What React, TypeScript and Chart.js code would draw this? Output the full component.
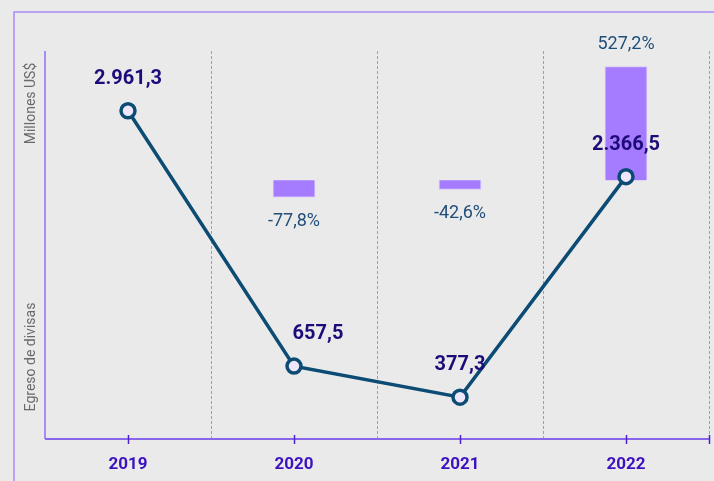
import React, { useEffect, useRef } from "react";
import { Chart, registerables } from "chart.js";

Chart.register(...registerables);

const categories = ["2019", "2020", "2021", "2022"];
const egresoValues = [2961.3, 657.5, 377.3, 2366.5];
const variationValues: (number | null)[] = [null, -77.8, -42.6, 527.2];
const leftAxisTitleTop = "Millones US$";
const leftAxisTitleBottom = "Egreso de divisas";

const FONT = "Roboto, 'Noto Sans', sans-serif";
// horizontal nudge of each line label (px), to avoid the line
const lineLabelShift = [0, 24, 0, 0];

function fmt(v: number, dec = 1): string {
  const neg = v < 0;
  const s = Math.abs(v).toFixed(dec);
  const [int, frac] = s.split(".");
  const withDots = int.replace(/\B(?=(\d{3})+(?!\d))/g, ".");
  return (neg ? "-" : "") + withDots + (frac ? "," + frac : "");
}

const decorPlugin = {
  id: "decor",
  beforeDatasetsDraw(chart: any) {
    const { ctx, chartArea } = chart;
    const xs = chart.scales.x;
    const { left, right, top, bottom } = chartArea;
    ctx.save();
    // frame
    ctx.strokeStyle = "#A98BF5";
    ctx.lineWidth = 1.5;
    ctx.beginPath();
    ctx.moveTo(14, chart.height);
    ctx.lineTo(14, 12);
    ctx.lineTo(chart.width, 12);
    ctx.stroke();
    // dashed boundaries
    const half = (xs.getPixelForValue(1) - xs.getPixelForValue(0)) / 2;
    ctx.strokeStyle = "#A98BF5";
    ctx.lineWidth = 1;
    ctx.setLineDash([3, 2]);
    for (let i = 0; i < categories.length; i++) {
      const x = Math.round(xs.getPixelForValue(i) + half) + 0.5;
      ctx.beginPath();
      ctx.moveTo(x, top);
      ctx.lineTo(x, bottom);
      ctx.stroke();
    }
    ctx.setLineDash([]);
    // left axis
    ctx.strokeStyle = "#A98BF5";
    ctx.lineWidth = 2;
    ctx.beginPath();
    ctx.moveTo(left, top);
    ctx.lineTo(left, bottom);
    ctx.stroke();
    // bottom axis
    ctx.strokeStyle = "#8766EC";
    ctx.lineWidth = 2;
    ctx.beginPath();
    ctx.moveTo(left, bottom);
    ctx.lineTo(right + 1, bottom);
    ctx.stroke();
    // tick marks
    ctx.strokeStyle = "#4F22CC";
    ctx.lineWidth = 1.5;
    const tickXs = categories.map((_, i) => xs.getPixelForValue(i));
    tickXs.push(xs.getPixelForValue(categories.length - 1) + half);
    tickXs.forEach((x) => {
      ctx.beginPath();
      ctx.moveTo(Math.round(x) + 0.5, bottom - 4);
      ctx.lineTo(Math.round(x) + 0.5, bottom + 5);
      ctx.stroke();
    });
    // x labels
    ctx.fillStyle = "#3D10C0";
    ctx.font = `bold 17px ${FONT}`;
    ctx.textAlign = "center";
    ctx.textBaseline = "middle";
    categories.forEach((c, i) => {
      ctx.fillText(c, xs.getPixelForValue(i), 465);
    });
    // left axis titles
    ctx.fillStyle = "#6A6A6A";
    ctx.font = `14px ${FONT}`;
    ctx.save();
    ctx.translate(31, 103.5);
    ctx.rotate(-Math.PI / 2);
    ctx.fillText(leftAxisTitleTop, 0, 0);
    ctx.restore();
    ctx.save();
    ctx.translate(31, 357);
    ctx.rotate(-Math.PI / 2);
    ctx.fillText(leftAxisTitleBottom, 0, 0);
    ctx.restore();
    ctx.restore();
  },
  afterDatasetsDraw(chart: any) {
    const { ctx } = chart;
    ctx.save();
    ctx.textAlign = "center";
    ctx.textBaseline = "middle";
    // bar labels
    const barMeta = chart.getDatasetMeta(1);
    ctx.font = `18px ${FONT}`;
    ctx.fillStyle = "#1F4E79";
    barMeta.data.forEach((el: any, i: number) => {
      const v = variationValues[i];
      if (v == null) return;
      const props = el.getProps(["x", "y", "base"], true);
      const topY = Math.min(props.y, props.base);
      const botY = Math.max(props.y, props.base);
      const y = v >= 0 ? topY - 22 : botY + 24;
      ctx.fillText(fmt(v) + "%", props.x, y);
    });
    // line labels
    const lineMeta = chart.getDatasetMeta(0);
    ctx.font = `bold 20px ${FONT}`;
    ctx.fillStyle = "#1E0B7A";
    lineMeta.data.forEach((el: any, i: number) => {
      const p = el.getProps(["x", "y"], true);
      ctx.fillText(fmt(egresoValues[i]), p.x + lineLabelShift[i], p.y - 32);
    });
    ctx.restore();
  },
};

export default function App() {
  const ref = useRef<HTMLCanvasElement>(null);
  useEffect(() => {
    if (!ref.current) return;
    const chart = new Chart(ref.current, {
      type: "bar",
      data: {
        labels: categories,
        datasets: [
          {
            type: "line",
            label: "Egreso de divisas",
            data: egresoValues,
            yAxisID: "y",
            borderColor: "#0B4B74",
            borderWidth: 3.5,
            pointRadius: 7,
            pointBorderWidth: 3.5,
            pointBackgroundColor: "#EEE6FB",
            pointBorderColor: "#0B4B74",
            tension: 0,
            order: 0,
          } as any,
          {
            type: "bar",
            label: "Variación %",
            data: variationValues,
            yAxisID: "y2",
            backgroundColor: "#A57BFF",
            borderColor: "#D4C4FA",
            borderWidth: 1,
            barThickness: 42,
            order: 1,
          } as any,
        ],
      },
      options: {
        animation: false,
        responsive: false,
        maintainAspectRatio: false,
        layout: { autoPadding: false, padding: { left: 45, top: 51, right: 5, bottom: 42 } },
        plugins: { legend: { display: false }, tooltip: { enabled: false } },
        scales: {
          x: { type: "category", display: false, offset: true },
          y: { display: false, min: 0, max: 3500 },
          y2: { display: false, position: "right", min: -1200, max: 600 },
        },
      } as any,
      plugins: [decorPlugin],
    });
    return () => chart.destroy();
  }, []);
  return (
    <div
      style={{
        position: "fixed",
        left: 0,
        top: 0,
        width: 714,
        height: 481,
        background: "#EAEAEA",
        overflow: "hidden",
      }}
    >
      <canvas ref={ref} width={714} height={481} style={{ width: 714, height: 481, display: "block" }} />
    </div>
  );
}
